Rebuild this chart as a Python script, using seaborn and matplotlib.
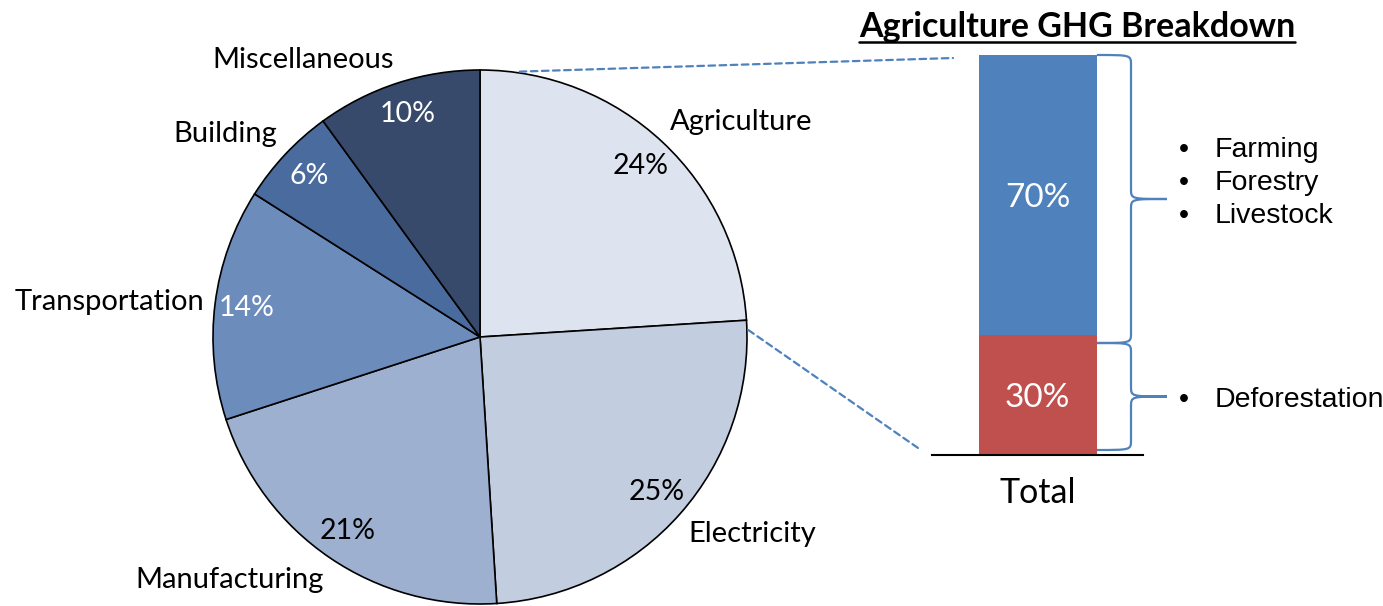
import matplotlib
matplotlib.use("Agg")
import matplotlib.pyplot as plt
import seaborn as sns
import numpy as np
from matplotlib.path import Path
from matplotlib.patches import PathPatch, ConnectionPatch

# ---- data ----
sectors = ["Agriculture", "Electricity", "Manufacturing", "Transportation", "Building", "Miscellaneous"]
shares = [24, 25, 21, 14, 6, 10]
sector_colors = ["#DEE4EF", "#C3CDE0", "#9DB0CF", "#6C8CBB", "#4A6B9E", "#374A6B"]
pct_colors = ["black", "black", "black", "white", "white", "white"]

agri_parts = ["Deforestation", "Farming, Forestry, Livestock"]
agri_shares = [30, 70]
agri_colors = ["#C0504D", "#4F81BD"]
bar_label = "Total"
upper_items = ["Farming", "Forestry", "Livestock"]
lower_items = ["Deforestation"]
title = "Agriculture GHG Breakdown"

sns.set_theme(style="white")
LATO = ["Lato", "DejaVu Sans"]
ARIAL = ["Liberation Sans", "DejaVu Sans"]
plt.rcParams["font.family"] = LATO

W, H = 1383, 606
fig = plt.figure(figsize=(W / 100, H / 100), dpi=100)

# ---- pie ----
cx, cy, R = 480, 337, 267
axp = fig.add_axes([(cx - R) / W, (H - cy - R) / H, 2 * R / W, 2 * R / H])
wedges, texts, autotexts = axp.pie(
    shares, labels=sectors, colors=sector_colors, startangle=90, counterclock=False,
    autopct="%d%%", pctdistance=0.88, labeldistance=1.04, radius=1.0,
    wedgeprops=dict(edgecolor="black", linewidth=1.2),
    textprops=dict(fontsize=21, family=LATO, color="black"))
for t in texts:
    x, y = t.get_position()
    if y > 0.35:
        t.set_va("bottom")
    elif y < -0.35:
        t.set_va("top")
    else:
        t.set_va("center")
for t, c in zip(autotexts, pct_colors):
    t.set_color(c)
    t.set_fontsize(20.5)
axp.set_xlim(-1, 1)
axp.set_ylim(-1, 1)
axp.set_aspect("equal")
axp.axis("off")

# ---- stacked bar ----
bl, br, bb, bt = 932, 1143, 455, 55
axb = fig.add_axes([bl / W, (H - bb) / H, (br - bl) / W, (bb - bt) / H])
total = sum(agri_shares)
sns.barplot(x=[bar_label], y=[total], color=agri_colors[1], width=0.8, ax=axb,
            saturation=1, edgecolor="none")
sns.barplot(x=[bar_label], y=[agri_shares[0]], color=agri_colors[0], width=0.8, ax=axb,
            saturation=1, edgecolor="none")
half = (br - bl) / 118 * 0.8 / 2
axb.set_xlim(-half, half)
axb.set_ylim(0, total)
for s in ["top", "right", "left"]:
    axb.spines[s].set_visible(False)
axb.spines["bottom"].set_color("black")
axb.spines["bottom"].set_linewidth(1.5)
axb.set_yticks([])
axb.set_ylabel("")
axb.tick_params(axis="x", length=0, pad=16, labelsize=24.5)
for lab in axb.get_xticklabels():
    lab.set_family(LATO)
    lab.set_color("black")

bottom = 0
for v in agri_shares:
    axb.text(0, bottom + v / 2, f"{v}%", ha="center", va="center_baseline", color="white",
             fontsize=24, family=LATO)
    bottom += v

# braces
def brace(ax, y0, y1, x0=0.403, xm=0.634, xt=0.878, d=2.5, color="#4F81BD"):
    ym = (y0 + y1) / 2
    verts = [(x0, y1), (xm, y1), (xm, y1), (xm, y1 - d),
             (xm, ym + d),
             (xm, ym), (xm, ym), (xt, ym),
             (xm, ym), (xm, ym), (xm, ym - d),
             (xm, y0 + d),
             (xm, y0), (xm, y0), (x0, y0)]
    codes = [Path.MOVETO, Path.CURVE4, Path.CURVE4, Path.CURVE4,
             Path.LINETO,
             Path.CURVE4, Path.CURVE4, Path.CURVE4,
             Path.CURVE4, Path.CURVE4, Path.CURVE4,
             Path.LINETO,
             Path.CURVE4, Path.CURVE4, Path.CURVE4]
    p = PathPatch(Path(verts, codes), fill=False, edgecolor=color, linewidth=1.6,
                  clip_on=False)
    ax.add_patch(p)
    return ym

split = agri_shares[0] - 2.0
ym_up = brace(axb, split, total)
ym_lo = brace(axb, 1.25, split)

spacing = 8.25
for i, item in enumerate(upper_items):
    y = ym_up + 4.0 - (i - 1) * spacing
    axb.text(0.993, y, "•", ha="center", va="center", fontsize=20.5, family=ARIAL,
             color="black", clip_on=False)
    axb.text(1.203, y, item, ha="left", va="center", fontsize=20.5, family=ARIAL,
             color="black", clip_on=False)
for item in lower_items:
    y = ym_lo - 0.95
    axb.text(0.993, y, "•", ha="center", va="center", fontsize=20.5, family=ARIAL,
             color="black", clip_on=False)
    axb.text(1.203, y, item, ha="left", va="center", fontsize=20.5, family=ARIAL,
             color="black", clip_on=False)

# dashed connectors
for ang, bx, by in [(81.5, -0.573, 99.25), (1.5, -0.81, 1.75)]:
    a = np.deg2rad(ang)
    con = ConnectionPatch(xyA=(1.005 * np.cos(a), 1.005 * np.sin(a)), coordsA=axp.transData,
                          xyB=(bx, by), coordsB=axb.transData,
                          color="#4F81BD", linewidth=1.6, linestyle=(0, (3, 2)))
    fig.add_artist(con)

# title with underline
tt = fig.text(1077 / W, 1 - 37 / H, title, ha="center", va="baseline", fontsize=24.5,
              fontweight="bold", family=LATO, color="black")
fig.canvas.draw()
bb_t = tt.get_window_extent(fig.canvas.get_renderer())
uy = (H - 42) / H
fig.add_artist(plt.Line2D([bb_t.x0 / W, bb_t.x1 / W], [uy, uy], color="black",
                          linewidth=1.8, transform=fig.transFigure))

fig.savefig("out.png", dpi=100)
